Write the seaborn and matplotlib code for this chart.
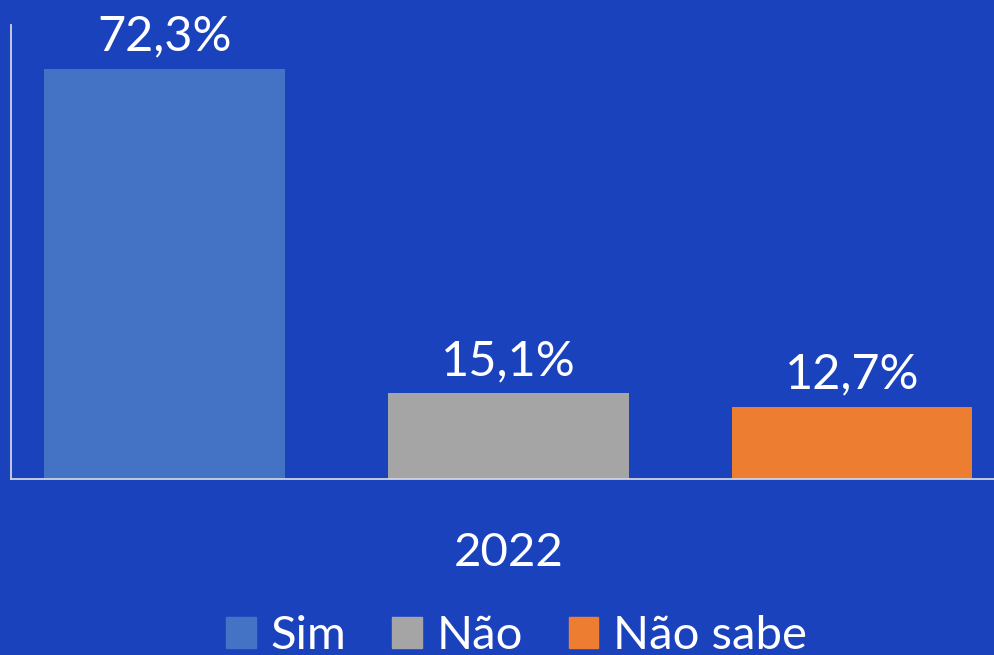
import matplotlib
matplotlib.use("Agg")
import matplotlib.pyplot as plt
import seaborn as sns

categories = ["Sim", "Não", "Não sabe"]
values = [72.3, 15.1, 12.7]
value_labels = ["72,3%", "15,1%", "12,7%"]
year_label = "2022"
colors = ["#4472C4", "#A5A5A5", "#ED7D31"]

BG = "#1B42BD"
AXIS = "#D0D4E0"

sns.set_style("white")
plt.rcParams["font.family"] = ["Lato", "DejaVu Sans"]

fig = plt.figure(figsize=(9.94, 6.55), dpi=100, facecolor=BG)
ax = fig.add_axes([11 / 994, 1 - 479 / 655, 1 - 11 / 994, (479 - 25) / 655])
ax.set_facecolor(BG)

sns.barplot(x=categories, y=values, hue=categories, palette=colors,
            width=0.7, saturation=1, legend=False, linewidth=0, ax=ax)

ax.set_xlim(-0.447, 2.413)
ax.set_ylim(0, 80)

for i, (v, lab) in enumerate(zip(values, value_labels)):
    ax.text(i, v + 1.8, lab, ha="center", va="bottom", color="white", fontsize=35)

ax.set_xticks([1])
ax.set_xticklabels([year_label], color="white", fontsize=34)
ax.tick_params(axis="x", length=0, pad=38)
ax.set_yticks([])
ax.set_xlabel("")
ax.set_ylabel("")

for side in ["top", "right"]:
    ax.spines[side].set_visible(False)
for side in ["left", "bottom"]:
    ax.spines[side].set_color(AXIS)
    ax.spines[side].set_linewidth(1.3)

handles = [plt.Rectangle((0, 0), 1, 1, color=c) for c in colors]
fig.legend(handles, categories, loc="lower center", bbox_to_anchor=(0.52, -0.068),
           ncol=3, frameon=False, fontsize=34, labelcolor="white",
           handlelength=0.62, handleheight=0.62, handletextpad=0.32, columnspacing=0.97)

fig.savefig("out.png", dpi=100, facecolor=BG)
